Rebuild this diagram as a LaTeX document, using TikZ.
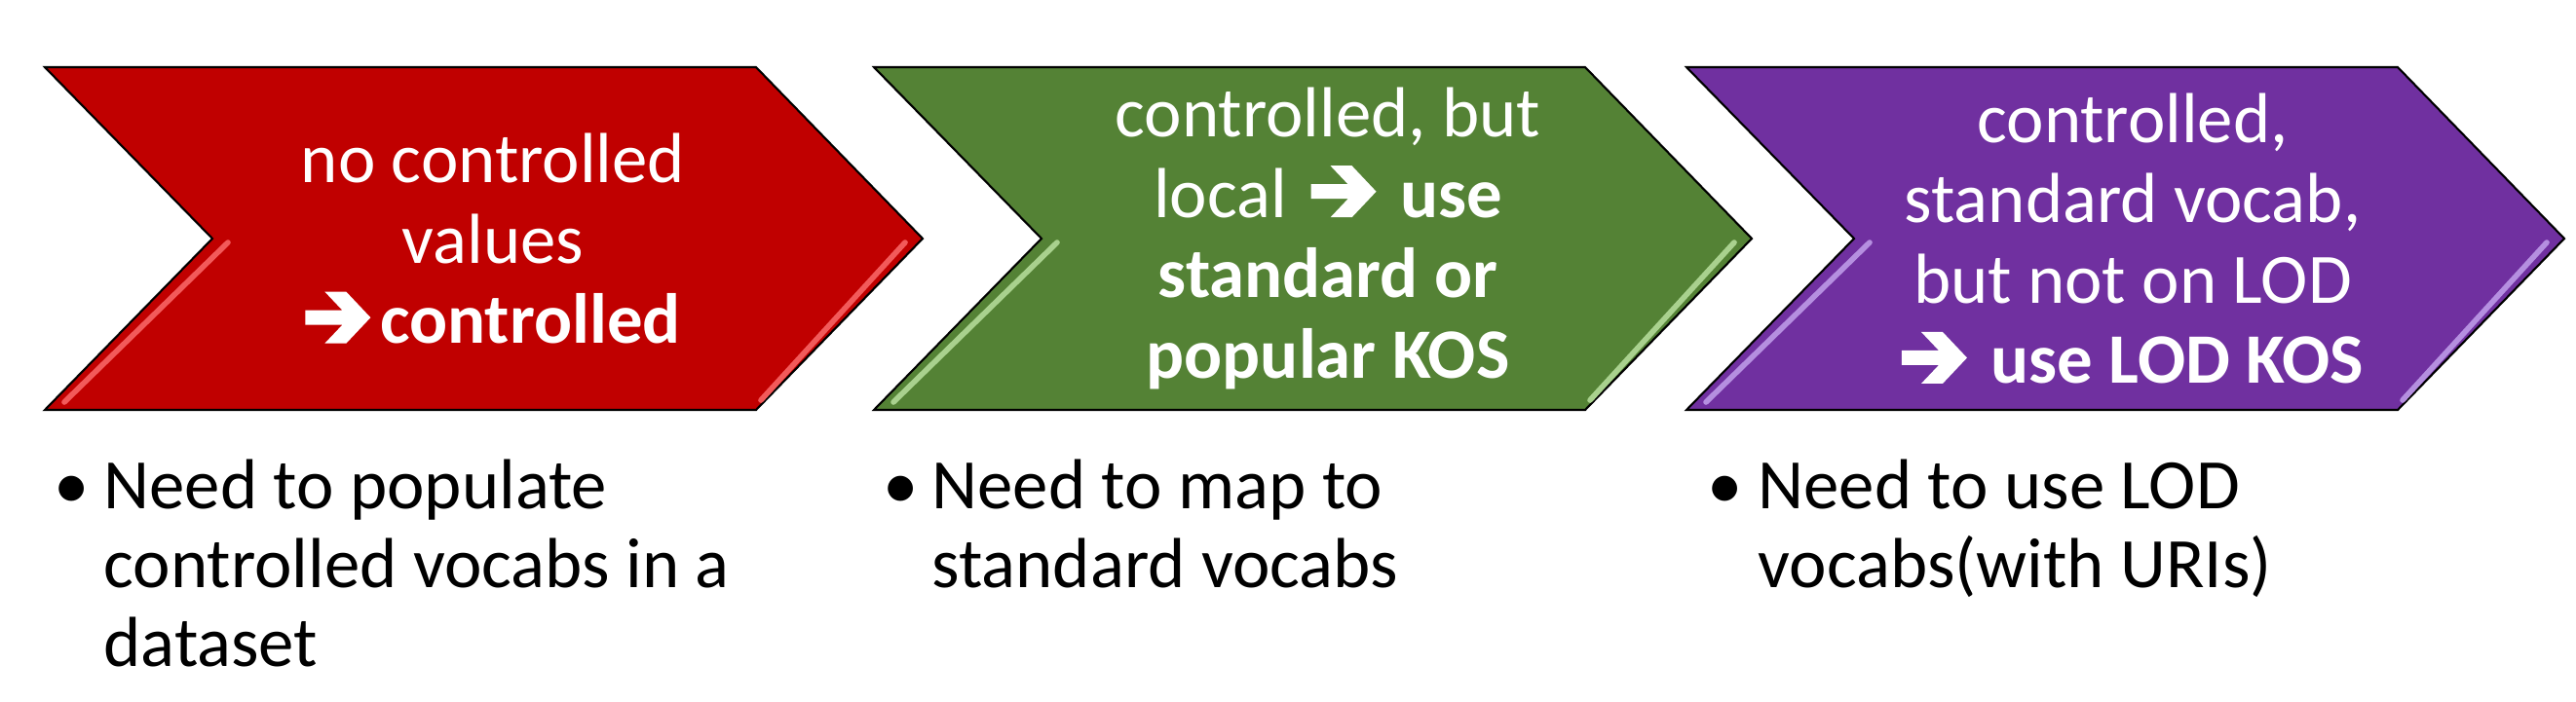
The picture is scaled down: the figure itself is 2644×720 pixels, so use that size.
\documentclass[tikz,border=0pt]{standalone}
\usepackage{fontspec}
\setmainfont{Carlito}
\usetikzlibrary{positioning,calc}
\definecolor{stepred}{HTML}{C00000}
\definecolor{stepgreen}{HTML}{548235}
\definecolor{steppurple}{HTML}{7030A0}
\definecolor{redlight}{HTML}{F25A5A}
\definecolor{greenlight}{HTML}{A9D18E}
\definecolor{purplelight}{HTML}{B58FE0}
% heavy arrow as in the slide
\newcommand{\rarr}{\tikz[x=0.2845pt,y=0.2845pt,baseline=0pt]\fill[white] (0,19) -- (0,34) -- (38,34) -- (20,53) -- (42,53) -- (67,26.5) -- (42,0) -- (20,0) -- (38,19) -- cycle;}

\begin{document}
\begin{tikzpicture}[x=0.01cm,y=-0.01cm,
  chevron/.style={draw=black,line width=0.6pt,line join=miter},
  bevel/.style={line width=1.6pt,line cap=round},
  steptext/.style={text=white,align=center,inner sep=0pt,font=\fontsize{20.7}{23.5}\selectfont},
  needtext/.style={anchor=base west,align=left,inner sep=0pt,font=\fontsize{20.7}{23}\selectfont},
  dot/.style={anchor=base west,inner sep=0pt,font=\fontsize{20.7}{23}\selectfont}]
\useasboundingbox (0,0) rectangle (2644,720);
%chevrons
\filldraw[chevron,fill=stepred] (46,69) -- (776,69) -- (947,245) -- (776,421) -- (46,421) -- (218,245) -- cycle;
\filldraw[chevron,fill=stepgreen] (897,69) -- (1627,69) -- (1798,245) -- (1627,421) -- (897,421) -- (1069,245) -- cycle;
\filldraw[chevron,fill=steppurple] (1731,69) -- (2461,69) -- (2632,245) -- (2461,421) -- (1731,421) -- (1903,245) -- cycle;
\draw[bevel,redlight] (234,249) -- (66,413);  \draw[bevel,redlight] (929,249) -- (781,411);
\draw[bevel,greenlight] (1085,249) -- (917,413);  \draw[bevel,greenlight] (1780,249) -- (1632,411);
\draw[bevel,purplelight] (1919,249) -- (1751,413);  \draw[bevel,purplelight] (2614,249) -- (2466,411);
%texts in chevrons
\node(step1)[steptext] at (506,245) {no controlled\\values\\\rarr\hspace{2.8pt}\textbf{controlled}};
\node(step2)[steptext] at (1363,245) {controlled, but\\local\hspace{7pt}\rarr\hspace{7pt}\textbf{use}\\\textbf{standard or}\\\textbf{popular KOS}};
\node(step3)[steptext] at (2189,245) {controlled,\\standard vocab,\\but not on LOD\\\rarr\hspace{7pt}\textbf{use LOD KOS}};
%needs (base = last line)
\node(dot1)[dot] at (55,522) {•};
\node(need1)[needtext] at (106,684) {Need to populate\\controlled vocabs in a\\dataset};
\node(dot2)[dot] at (906,522) {•};
\node(need2)[needtext] at (956,603) {Need to map to\\standard vocabs};
\node(dot3)[dot] at (1752,522) {•};
\node(need3)[needtext] at (1804,603) {Need to use LOD\\vocabs(with URIs)};
\end{tikzpicture}
\end{document}
